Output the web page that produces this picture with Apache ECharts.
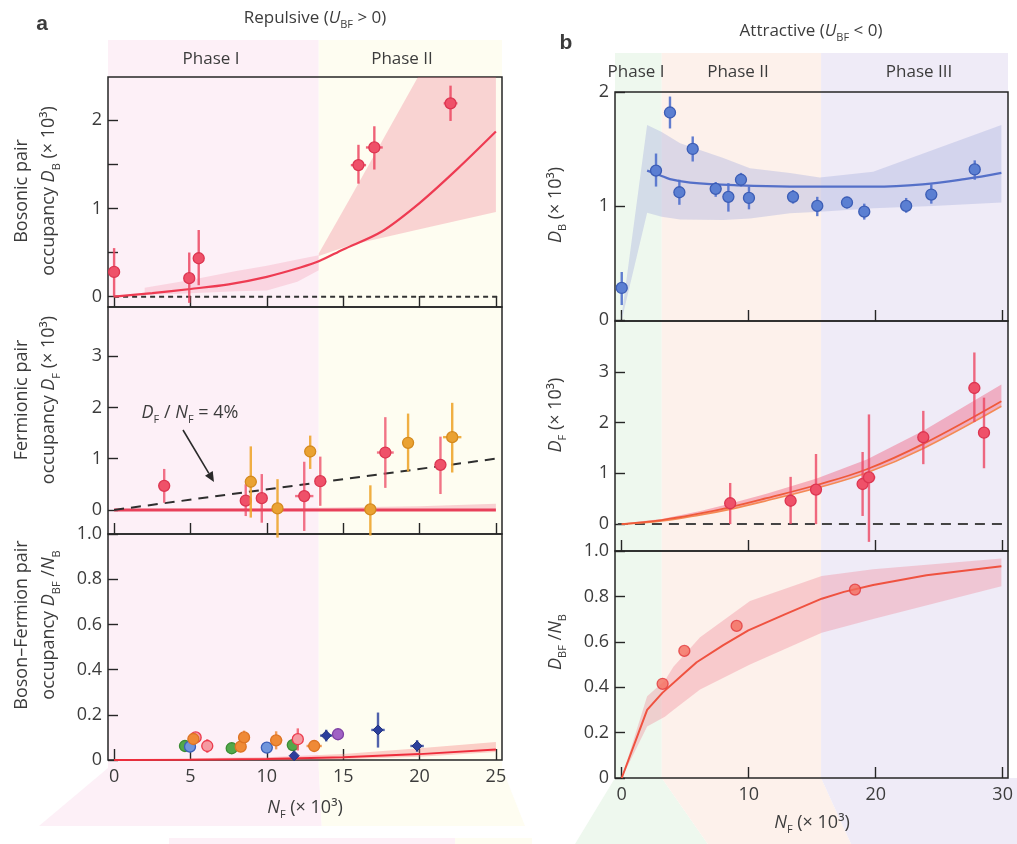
<!DOCTYPE html>
<html>
<head>
<meta charset="utf-8">
<script src="https://cdn.jsdelivr.net/npm/echarts@6/dist/echarts.min.js"></script>
<style>
  html, body { margin: 0; padding: 0; background: #ffffff; }
  #chart { width: 1017px; height: 844px; }
</style>
</head>
<body>
<div id="chart"></div>
<script>
// ---------- Panel a: repulsive interactions (N_F in units of 10^3) ----------
// error-bar points: [N_F, value, low, high, xErr]
const aBosonPts = [
  [0.0, 0.28, 0.0, 0.55, 0],
  [4.92, 0.21, -0.07, 0.50, 0],
  [5.54, 0.435, 0.13, 0.755, 0],
  [16.0, 1.49, 1.28, 1.72, 0.5],
  [17.04, 1.69, 1.44, 1.93, 0.55],
  [22.03, 2.19, 1.99, 2.39, 0.45]
];
const aBosonTheory = [[0, 0], [2.5, 0.04], [5, 0.087], [7.5, 0.14], [10, 0.225], [12.2, 0.33], [13.4, 0.40],
  [15, 0.535], [17.5, 0.735], [20, 1.06], [22.5, 1.45], [25, 1.87]];
// bands: [N_F, low, high]
const aBosonBandI = [[2.0, 0.02, 0.10], [5, 0.04, 0.19], [8, 0.06, 0.29], [10, 0.07, 0.35], [12, 0.17, 0.42], [13.4, 0.30, 0.47]];
const aBosonBandII = [[13.4, 0.46, 0.49], [15.5, 0.585, 1.13], [20, 0.765, 2.52], [25, 0.96, 4.05]];
const aBosonZero = [[0, 0], [25.2, 0]];

const aFermiRed = [
  [3.28, 0.47, 0.14, 0.80, 0],
  [8.62, 0.18, -0.12, 0.50, 0],
  [9.67, 0.23, -0.25, 0.70, 0],
  [12.45, 0.27, -0.41, 0.94, 0.6],
  [13.5, 0.56, 0.08, 1.04, 0],
  [17.76, 1.12, 0.43, 1.81, 0.55],
  [21.37, 0.88, 0.31, 1.43, 0]
];
const aFermiOrange = [
  [8.95, 0.55, -0.15, 1.24, 0.38],
  [10.7, 0.03, -0.54, 0.60, 0],
  [12.84, 1.14, 0.80, 1.45, 0],
  [16.78, 0.01, -0.5, 0.48, 0],
  [19.25, 1.31, 0.75, 1.88, 0],
  [22.14, 1.42, 0.73, 2.09, 0.6]
];
const aFermiTheory = [[0, 0], [25, 0]];
const aFermiBand = [[0, -0.02, 0.02], [10, -0.02, 0.03], [20, -0.02, 0.07], [25, -0.02, 0.12]];
const aFermiRatio = [[0, 0], [25, 1.0]]; // D_F / N_F = 4 %

const aPairGreen = [[4.64, 0.062, 0.052, 0.072, 0], [7.7, 0.052, 0.045, 0.06, 0], [11.7, 0.066, 0.055, 0.078, 0]];
const aPairBlue = [[4.97, 0.059, 0.05, 0.068, 0], [10.0, 0.055, 0.047, 0.063, 0]];
const aPairRed = [[5.34, 0.10, 0.085, 0.115, 0], [6.1, 0.062, 0.032, 0.092, 0], [12.03, 0.092, 0.042, 0.14, 0]];
const aPairOrange = [[5.19, 0.093, 0.08, 0.106, 0], [8.29, 0.059, 0.05, 0.068, 0], [8.51, 0.10, 0.07, 0.13, 0],
  [10.61, 0.087, 0.047, 0.127, 0.4], [13.1, 0.062, 0.056, 0.068, 0.5]];
const aPairNavy = [[11.79, 0.019, 0.012, 0.026, 0], [13.89, 0.108, 0.082, 0.134, 0.4],
  [17.28, 0.133, 0.055, 0.21, 0.44], [19.84, 0.062, 0.036, 0.088, 0.44]];
const aPairPurple = [[14.66, 0.114, 0.105, 0.123, 0]];
const aPairTheory = [[0, 0], [5, 0.001], [10, 0.004], [15, 0.012], [20, 0.026], [25, 0.046]];
const aPairBand = [[0, -0.004, 0.003], [10, -0.002, 0.012], [15, 0.003, 0.026], [20, 0.014, 0.052], [25, 0.035, 0.08]];

// ---------- Panel b: attractive interactions ----------
const bBosonPts = [
  [0, 0.28, 0.13, 0.42, 0], [2.7, 1.31, 1.17, 1.46, 0], [3.8, 1.82, 1.68, 1.96, 0], [4.54, 1.12, 1.01, 1.23, 0],
  [5.59, 1.50, 1.39, 1.61, 0], [7.4, 1.15, 1.08, 1.21, 0], [8.4, 1.08, 0.95, 1.20, 0], [9.39, 1.23, 1.17, 1.29, 0],
  [10.02, 1.07, 0.97, 1.17, 0], [13.49, 1.08, 1.02, 1.14, 0], [15.4, 1.0, 0.91, 1.08, 0], [17.74, 1.03, 0.98, 1.08, 0],
  [19.1, 0.95, 0.88, 1.02, 0], [22.4, 1.0, 0.94, 1.07, 0], [24.38, 1.10, 1.02, 1.19, 0], [27.8, 1.32, 1.23, 1.40, 0]
];
const bBosonTheory = [[2, 1.31], [3, 1.27], [3.8, 1.235], [5.4, 1.205], [9.3, 1.18], [13.25, 1.17], [19.8, 1.17],
  [23.7, 1.19], [27, 1.235], [29.9, 1.29]];
const bBosonBand = [[0, 0.0, 0.04], [2.0, 0.94, 1.71], [3.15, 0.905, 1.65], [4.6, 0.88, 1.55], [8.0, 0.877, 1.42],
  [10.1, 0.89, 1.33], [13.25, 0.935, 1.29], [15.6, 0.95, 1.25], [19.8, 0.98, 1.30], [24.5, 1.0, 1.49], [29.9, 1.03, 1.71]];

const bFermiPts = [
  [8.54, 0.41, 0, 0.81, 0], [13.3, 0.46, 0, 0.93, 0], [15.3, 0.68, 0, 1.38, 0], [18.97, 0.79, 0.16, 1.42, 0],
  [19.47, 0.92, -0.35, 2.16, 0.5], [23.75, 1.71, 1.18, 2.23, 0], [27.77, 2.68, 2.01, 3.38, 0.3], [28.53, 1.80, 1.10, 2.49, 0.3]
];
const bFermiUpper = [[0, 0], [3.15, 0.08], [6.2, 0.21], [8.5, 0.33], [11.4, 0.51], [15.35, 0.77], [19.3, 1.08], [23.75, 1.58], [29.9, 2.42]];
const bFermiLower = [[0, 0], [3.15, 0.06], [6.2, 0.18], [8.5, 0.29], [11.4, 0.46], [15.35, 0.71], [19.3, 1.01], [23.75, 1.49], [29.9, 2.32]];
const bFermiBand = [[0, 0, 0.01], [3.15, 0.06, 0.10], [6.2, 0.18, 0.26], [8.5, 0.29, 0.40], [11.4, 0.46, 0.60],
  [15.35, 0.71, 0.90], [19.3, 1.01, 1.27], [23.75, 1.49, 1.84], [29.9, 2.32, 2.75]];
const bFermiZero = [[-0.3, 0], [30.4, 0]];

const bPairPts = [[3.22, 0.415], [4.93, 0.56], [9.05, 0.67], [18.37, 0.83]];
const bPairTheory = [[0, 0], [2.0, 0.30], [3.2, 0.375], [4.9, 0.46], [5.9, 0.51], [8, 0.585], [9.97, 0.65], [12.8, 0.72],
  [15.75, 0.79], [17.5, 0.82], [19.8, 0.85], [24, 0.893], [29.9, 0.933]];
const bPairBand = [[0, 0, 0], [2.0, 0.227, 0.36], [3.4, 0.27, 0.43], [4.07, 0.30, 0.49], [6.17, 0.39, 0.62], [10.1, 0.50, 0.78],
  [15.75, 0.64, 0.89], [19.8, 0.70, 0.92], [29.9, 0.845, 0.967]];

// tick values
const aXTicks = [0, 5, 10, 15, 20, 25];
const bXTicks = [0, 10, 20, 30];
const aBosonTicks = [0, 0.5, 1, 1.5, 2];
const aBosonLabels = [0, 1, 2];
const fermiTicks = [0, 1, 2, 3];
const fractionTicks = [0, 0.2, 0.4, 0.6, 0.8, 1.0];
const bBosonTicks = [0, 1, 2];

// phase boundaries along N_F (axis edges included)
const phaseEdgesA = [-0.4, 13.4, 25.4];
const phaseEdgesB = [-0.53, 3.15, 15.7, 30.42];

// ---------- styling ----------
const FONT = "'Open Sans', 'DejaVu Sans', sans-serif";
const TXT = '#3c3c3c';
const FRAME = '#262626';

const grids = [
  { left: 108, top: 77, width: 394, height: 230 },
  { left: 108, top: 307, width: 394, height: 227 },
  { left: 108, top: 534, width: 394, height: 226 },
  { left: 615, top: 92, width: 393, height: 229 },
  { left: 615, top: 321, width: 393, height: 230 },
  { left: 615, top: 551, width: 393, height: 227 }
].map(g => Object.assign(g, { show: true, borderColor: FRAME, borderWidth: 1.5, backgroundColor: 'transparent' }));

function xAx(grid, min, max, ticks, showLabels) {
  return {
    type: 'value', gridIndex: grid, min: min, max: max,
    axisLine: { show: false, onZero: false }, splitLine: { show: false },
    axisTick: { show: true, inside: true, length: 11, customValues: ticks, lineStyle: { color: FRAME, width: 1.4 } },
    axisLabel: { show: showLabels, customValues: ticks, margin: 8, color: TXT, fontSize: 18, fontFamily: FONT }
  };
}
function yAx(grid, min, max, ticks, labels, fmt) {
  return {
    type: 'value', gridIndex: grid, min: min, max: max,
    axisLine: { show: false, onZero: false }, splitLine: { show: false },
    axisTick: { show: true, inside: true, length: 10, customValues: ticks, lineStyle: { color: FRAME, width: 1.4 } },
    axisLabel: { show: true, customValues: labels, margin: 6, color: TXT, fontSize: 18, fontFamily: FONT, formatter: fmt }
  };
}
const fracFmt = v => (v === 0 ? '0' : v.toFixed(1));

// shaded band between low and high curves, clipped to its grid
function band(axis, pts, color) {
  return {
    type: 'custom', xAxisIndex: axis, yAxisIndex: axis, silent: true, z: 1,
    data: [[pts[0][0], pts[0][1]]],
    renderItem: function (params, api) {
      const up = pts.map(p => api.coord([p[0], p[2]]));
      const dn = pts.slice().reverse().map(p => api.coord([p[0], p[1]]));
      const cs = params.coordSys;
      return {
        type: 'group',
        clipPath: { type: 'rect', shape: { x: cs.x, y: cs.y, width: cs.width, height: cs.height } },
        children: [{ type: 'polygon', shape: { points: up.concat(dn) }, style: { fill: color } }]
      };
    }
  };
}

function line(axis, pts, color, width, dash, smooth) {
  return {
    type: 'line', xAxisIndex: axis, yAxisIndex: axis, data: pts, showSymbol: false, silent: true, z: 2,
    smooth: smooth || false, clip: true,
    lineStyle: { color: color, width: width, type: dash || 'solid' }
  };
}

// markers with vertical (and optional horizontal) error bars
function errPoints(axis, pts, fill, stroke, bar, shape, r) {
  return {
    type: 'custom', xAxisIndex: axis, yAxisIndex: axis, silent: true, z: 3,
    data: pts,
    encode: { x: 0, y: 1 },
    renderItem: function (params, api) {
      const x = api.value(0), y = api.value(1), lo = api.value(2), hi = api.value(3), xe = api.value(4);
      const c = api.coord([x, y]);
      const kids = [];
      if (hi !== lo) {
        const a = api.coord([x, lo]), b = api.coord([x, hi]);
        kids.push({ type: 'line', shape: { x1: a[0], y1: a[1], x2: b[0], y2: b[1] }, style: { stroke: bar, lineWidth: 2.4 } });
      }
      if (xe > 0) {
        const l = api.coord([x - xe, y]), rr = api.coord([x + xe, y]);
        kids.push({ type: 'line', shape: { x1: l[0], y1: l[1], x2: rr[0], y2: rr[1] }, style: { stroke: bar, lineWidth: 2.4 } });
      }
      if (shape === 'diamond') {
        kids.push({ type: 'polygon', shape: { points: [[c[0], c[1] - r], [c[0] + r, c[1]], [c[0], c[1] + r], [c[0] - r, c[1]]] },
          style: { fill: fill, stroke: stroke, lineWidth: 1 } });
      } else {
        kids.push({ type: 'circle', shape: { cx: c[0], cy: c[1], r: r }, style: { fill: fill, stroke: stroke, lineWidth: 1.3 } });
      }
      return { type: 'group', children: kids };
    }
  };
}

const RED_F = '#ef5169', RED_S = '#dc3550', RED_B = 'rgba(236,70,98,0.85)';
const ORA_F = '#eaa232', ORA_S = '#d48a1e', ORA_B = 'rgba(238,166,48,0.9)';
const BLUE_F = '#5b7fd2', BLUE_S = '#3c5db5', BLUE_B = 'rgba(80,112,204,0.9)';

const series = [
  // a1
  band(0, aBosonBandI, 'rgba(240,120,150,0.22)'),
  band(0, aBosonBandII, 'rgba(238,105,128,0.28)'),
  line(0, aBosonZero, '#333333', 2, [5, 4]),
  line(0, aBosonTheory, '#ee3b52', 2.2, 'solid', 0.3),
  errPoints(0, aBosonPts, RED_F, RED_S, RED_B, 'circle', 5.5),
  // a2
  band(1, aFermiBand, 'rgba(240,110,140,0.3)'),
  line(1, aFermiTheory, '#e8405a', 3),
  line(1, aFermiRatio, '#2e2e2e', 2, [10, 7]),
  errPoints(1, aFermiRed, RED_F, RED_S, 'rgba(236,70,98,0.75)', 'circle', 5.5),
  errPoints(1, aFermiOrange, ORA_F, ORA_S, ORA_B, 'circle', 5.5),
  // a3
  band(2, aPairBand, 'rgba(245,120,120,0.35)'),
  line(2, aPairTheory, '#ee2d3c', 2),
  errPoints(2, aPairGreen, '#52a84a', '#3b8d35', '#52a84a', 'circle', 5.5),
  errPoints(2, aPairBlue, '#7096dc', '#3b5fb8', '#5a80d2', 'circle', 5.5),
  errPoints(2, aPairRed, '#f59aa2', '#ec3a4c', 'rgba(240,80,95,0.8)', 'circle', 5.5),
  errPoints(2, aPairOrange, '#ef8a36', '#dd7424', 'rgba(240,140,60,0.85)', 'circle', 5.5),
  errPoints(2, aPairNavy, '#2c3f9c', '#22337f', 'rgba(50,70,160,0.85)', 'diamond', 5),
  errPoints(2, aPairPurple, '#a062c4', '#7e41a4', '#a062c4', 'circle', 5.5),
  // b1
  band(3, bBosonBand, 'rgba(170,178,222,0.4)'),
  line(3, bBosonTheory, '#5570c8', 2.2, 'solid', 0.4),
  errPoints(3, bBosonPts, BLUE_F, BLUE_S, BLUE_B, 'circle', 5.5),
  // b2
  line(4, bFermiZero, '#444444', 2, [10, 7]),
  band(4, bFermiBand, 'rgba(240,100,130,0.45)'),
  line(4, bFermiLower, '#f48a55', 1.6, 'solid', 0.4),
  line(4, bFermiUpper, '#ef5a3a', 1.8, 'solid', 0.4),
  errPoints(4, bFermiPts, RED_F, RED_S, 'rgba(236,70,98,0.8)', 'circle', 5.5),
  // b3
  band(5, bPairBand, 'rgba(240,120,140,0.32)'),
  line(5, bPairTheory, '#ef5240', 2),
  {
    type: 'scatter', xAxisIndex: 5, yAxisIndex: 5, data: bPairPts, symbol: 'circle', symbolSize: 11, z: 3, silent: true,
    itemStyle: { color: '#f46b5c', borderColor: '#e23a3c', borderWidth: 1.3 }
  }
];

const option = {
  animation: false,
  backgroundColor: '#ffffff',
  grid: grids,
  xAxis: [
    xAx(0, -0.4, 25.4, aXTicks, false),
    xAx(1, -0.4, 25.4, aXTicks, false),
    xAx(2, -0.4, 25.4, aXTicks, true),
    xAx(3, -0.53, 30.42, bXTicks, false),
    xAx(4, -0.53, 30.42, bXTicks, false),
    xAx(5, -0.53, 30.42, bXTicks, true)
  ],
  yAxis: [
    yAx(0, -0.117, 2.488, aBosonTicks, aBosonLabels),
    yAx(1, -0.47, 3.96, fermiTicks, fermiTicks),
    yAx(2, 0, 1, fractionTicks, fractionTicks, fracFmt),
    yAx(3, -0.01, 2.0, bBosonTicks, bBosonTicks),
    yAx(4, -0.53, 4.0, fermiTicks, fermiTicks),
    yAx(5, 0, 1, fractionTicks, fractionTicks, fracFmt)
  ],
  series: series
};

const chart = echarts.init(document.getElementById('chart'), null, { renderer: 'canvas' });
chart.setOption(option);

// ---------- text, phase backgrounds and annotations ----------
function rich(L, size) {
  return {
    i: { fontStyle: 'italic', fontSize: size, fontFamily: FONT, color: TXT, lineHeight: L },
    s: { fontSize: Math.round(size * 0.62), fontFamily: FONT, color: TXT, verticalAlign: 'bottom', lineHeight: L - 10 },
    n: { fontSize: size, fontFamily: FONT, color: TXT, lineHeight: L },
    b: { fontSize: 21, fontWeight: 'bold', fontFamily: "'Liberation Sans', sans-serif", color: '#1a1a1a', lineHeight: L }
  };
}
function txt(x, y, text, opts) {
  opts = opts || {};
  const size = opts.size || 18;
  const L = opts.lh || 24;
  return {
    type: 'text', x: x, y: y, rotation: opts.rot || 0, z: 50, silent: true,
    style: {
      text: text, rich: rich(L, size), fill: TXT, fontSize: size, fontFamily: FONT, lineHeight: L,
      align: opts.align || 'center', verticalAlign: 'middle'
    }
  };
}

const px = (axis, v) => chart.convertToPixel({ xAxisIndex: axis }, v);
const eA = phaseEdgesA.map(v => px(0, v));
const eB = phaseEdgesB.map(v => px(3, v));

const bgA = ['#fdf0f7', '#fefdf1'];
const bgB = ['#eef8ee', '#fdf1eb', '#efebf7'];

// panel a backgrounds: straight columns with splayed feet below the axis
const aTop = 40, aKnee = 768, aFoot = 826;
const aFootX = [39, eA[1] + 3, 525];
const graphics = [];
for (let k = 0; k < 2; k++) {
  graphics.push({
    type: 'polygon', z: -10, silent: true,
    shape: { points: [[eA[k], aTop], [eA[k + 1], aTop], [eA[k + 1], aKnee], [aFootX[k + 1], aFoot], [aFootX[k], aFoot], [eA[k], aKnee]] },
    style: { fill: bgA[k] }
  });
}
graphics.push({ type: 'rect', z: -10, silent: true, shape: { x: 169, y: 838, width: 286, height: 6 }, style: { fill: bgA[0] } });
graphics.push({ type: 'rect', z: -10, silent: true, shape: { x: 455, y: 838, width: 77, height: 6 }, style: { fill: bgA[1] } });

// panel b backgrounds
const bTop = 53, bKnee = 778, bFoot = 844;
const bFootX = [575, eB[1] + 46, eB[2] + 30, 1017];
for (let k = 0; k < 3; k++) {
  graphics.push({
    type: 'polygon', z: -10, silent: true,
    shape: { points: [[eB[k], bTop], [eB[k + 1], bTop], [eB[k + 1], bKnee], [bFootX[k + 1], bFoot], [bFootX[k], bFoot], [eB[k], bKnee]] },
    style: { fill: bgB[k] }
  });
}
graphics.push({ type: 'rect', z: -10, silent: true, shape: { x: 1007, y: 778, width: 10, height: 66 }, style: { fill: bgB[2] } });

// panel letters and headers
graphics.push(txt(42, 24, '{b|a}'));
graphics.push(txt(315, 18, 'Repulsive ({i|U}{s|BF} > 0)', { size: 17 }));
graphics.push(txt(566, 43, '{b|b}'));
graphics.push(txt(811, 31, 'Attractive ({i|U}{s|BF} < 0)', { size: 17 }));

// phase labels
graphics.push(txt(211, 59, 'Phase I', { size: 17 }));
graphics.push(txt(402, 59, 'Phase II', { size: 17 }));
graphics.push(txt(636, 72, 'Phase I', { size: 17 }));
graphics.push(txt(738, 72, 'Phase II', { size: 17 }));
graphics.push(txt(919, 72, 'Phase III', { size: 17 }));

// y-axis titles
const R = Math.PI / 2;
graphics.push(txt(35, 191, 'Bosonic pair\noccupancy {i|D}{s|B} (× 10³)', { rot: R, lh: 27 }));
graphics.push(txt(35, 400, 'Fermionic pair\noccupancy {i|D}{s|F} (× 10³)', { rot: R, lh: 27 }));
graphics.push(txt(35, 625, 'Boson–Fermion pair\noccupancy {i|D}{s|BF} /{i|N}{s|B}', { rot: R, lh: 27 }));
graphics.push(txt(556, 205, '{i|D}{s|B} (× 10³)', { rot: R }));
graphics.push(txt(556, 415, '{i|D}{s|F} (× 10³)', { rot: R }));
graphics.push(txt(556, 642, '{i|D}{s|BF} /{i|N}{s|B}', { rot: R }));

// x-axis titles
graphics.push(txt(305, 808, '{i|N}{s|F} (× 10³)'));
graphics.push(txt(812, 823, '{i|N}{s|F} (× 10³)'));

// ratio annotation with arrow
graphics.push(txt(190, 413, '{i|D}{s|F} / {i|N}{s|F} = 4%', { size: 18 }));
const ax0 = 183, ay0 = 430, ax1 = 214, ay1 = 482;
const ang = Math.atan2(ay1 - ay0, ax1 - ax0);
const hl = 10, hw = 4.5;
const bx = ax1 - hl * Math.cos(ang), by = ay1 - hl * Math.sin(ang);
graphics.push({ type: 'line', z: 50, silent: true, shape: { x1: ax0, y1: ay0, x2: bx, y2: by }, style: { stroke: '#2a2a2a', lineWidth: 1.6 } });
graphics.push({
  type: 'polygon', z: 50, silent: true,
  shape: { points: [[ax1, ay1], [bx + hw * Math.sin(ang), by - hw * Math.cos(ang)], [bx - hw * Math.sin(ang), by + hw * Math.cos(ang)]] },
  style: { fill: '#2a2a2a' }
});

chart.setOption({ graphic: { elements: graphics } });
</script>
</body>
</html>
